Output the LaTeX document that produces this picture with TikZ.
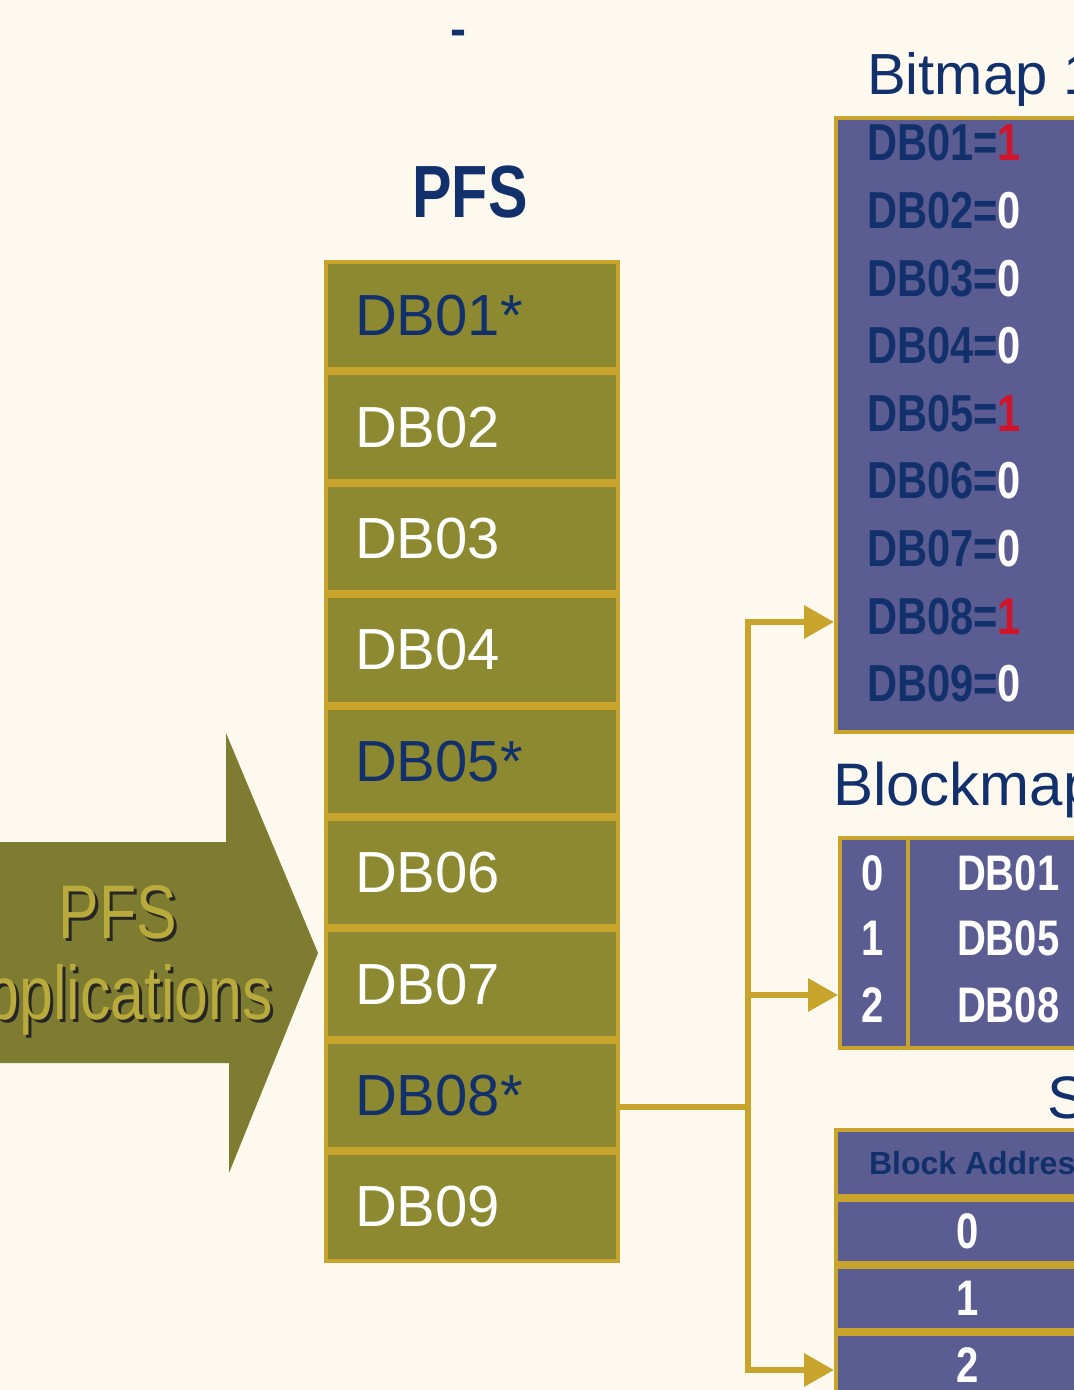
\documentclass[tikz,border=0pt]{standalone}
\usepackage{fontspec}
\setmainfont{Liberation Sans}
\newfontfamily\narrow[FakeStretch=0.8]{Liberation Sans}
\usetikzlibrary{positioning,arrows.meta}
\definecolor{paper}{HTML}{FEF9EE}
\definecolor{olive}{HTML}{8C8930}
\definecolor{darkolive}{HTML}{7D7C30}
\definecolor{gold}{HTML}{C9A42C}
\definecolor{slate}{HTML}{5A5C92}
\definecolor{navy}{HTML}{12306B}
\definecolor{bitred}{HTML}{D0142C}
\definecolor{apptext}{HTML}{B9AA3C}
\begin{document}
\begin{tikzpicture}[x=0.5pt, y=-0.5pt,
    cell/.style = {draw=gold, line width=2pt, fill=olive, minimum width=146pt, minimum height=53.7pt,
                   text width=117pt, align=left, font=\fontsize{29}{30}\selectfont, text=white},
    starcell/.style = {cell, text=navy},
    panel/.style = {draw=gold, line width=2pt, fill=slate},
    bit/.style = {anchor=west, font=\narrow\bfseries\fontsize{26}{28}\selectfont, text=navy},
    num/.style = {font=\narrow\bfseries\fontsize{25}{27}\selectfont, text=white},
    title/.style = {anchor=west, text=navy},
    app/.style = {font=\narrow\fontsize{38}{40}\selectfont, text=apptext},
    link/.style = {draw=gold, line width=3.2pt},
    tip/.style = {-{Triangle[length=15pt, width=16pt]}}]
    \useasboundingbox (0,0) rectangle (1074,1390);
    \clip (0,0) rectangle (1074,1390);
    \fill[paper] (0,0) rectangle (1074,1390);

    % PFS column
    \node[title, anchor=center, font=\bfseries\fontsize{24}{26}\selectfont] (dash) at (458,38) {-};
    \node[title, anchor=center, font=\narrow\bfseries\fontsize{37}{40}\selectfont] (pfs) at (470,192) {PFS};
    \node[starcell] (c1) at (472,315.7) {DB01*};
    \node[cell] (c2) [below=0pt of c1] {DB02};
    \node[cell] (c3) [below=0pt of c2] {DB03};
    \node[cell] (c4) [below=0pt of c3] {DB04};
    \node[starcell] (c5) [below=0pt of c4] {DB05*};
    \node[cell] (c6) [below=0pt of c5] {DB06};
    \node[cell] (c7) [below=0pt of c6] {DB07};
    \node[starcell] (c8) [below=0pt of c7] {DB08*};
    \node[cell] (c9) [below=0pt of c8] {DB09};

    % applications arrow
    \fill[darkolive] (-10,842) -- (226,842) -- (226,733) -- (318,953) -- (229,1173) -- (229,1063) -- (-10,1063) -- cycle;
    \node[app, text=black!85] (pfsshadow) at (121,915) {PFS};
    \node[app] (pfsapp) at (118,912) {PFS};
    \node[app, text=black!85, anchor=east] (appshadow) at (283,1003) {Applications};
    \node[app, anchor=east] (apps) at (280,1000) {Applications};

    % bitmap
    \node[title, font=\fontsize{29}{31}\selectfont] (bmtitle) at (860,80) {Bitmap 1};
    \node[panel, minimum width=132pt, minimum height=307pt] (bitmap) at (968,425) {};
    \node[bit] (b1) at (860,143) {DB01=\textcolor{bitred}{1}};
    \node[bit] (b2) at (860,210.6) {DB02=\textcolor{white}{0}};
    \node[bit] (b3) at (860,278.2) {DB03=\textcolor{white}{0}};
    \node[bit] (b4) at (860,345.8) {DB04=\textcolor{white}{0}};
    \node[bit] (b5) at (860,413.4) {DB05=\textcolor{bitred}{1}};
    \node[bit] (b6) at (860,481) {DB06=\textcolor{white}{0}};
    \node[bit] (b7) at (860,548.6) {DB07=\textcolor{white}{0}};
    \node[bit] (b8) at (860,616.2) {DB08=\textcolor{bitred}{1}};
    \node[bit] (b9) at (860,683.8) {DB09=\textcolor{white}{0}};

    % blockmap
    \node[title, font=\fontsize{30}{32}\selectfont] (bktitle) at (826,790) {Blockmap};
    \node[panel, minimum width=130pt, minimum height=105pt] (blk) at (970,943) {};
    \draw[draw=gold, line width=2pt] (908,838) -- (908,1048);
    \node[num] (k0) at (873,873) {0};
    \node[num] (k1) at (873,938) {1};
    \node[num] (k2) at (873,1005) {2};
    \node[num, anchor=west] (d0) at (950,873) {DB01};
    \node[num, anchor=west] (d1) at (950,938) {DB05};
    \node[num, anchor=west] (d2) at (950,1005) {DB08};

    % third table
    \node[title, font=\fontsize{30}{32}\selectfont] (stitle) at (1040,1098) {S};
    \node[panel, minimum width=132pt, minimum height=33pt] (hdr) at (968,1163) {};
    \node[title, font=\bfseries\fontsize{16}{18}\selectfont] (hdrtext) at (862,1163) {Block Address};
    \node[panel, num, minimum width=132pt, minimum height=31.5pt] (r0) [below=0pt of hdr] {0};
    \node[panel, num, minimum width=132pt, minimum height=31.5pt] (r1) [below=0pt of r0] {1};
    \node[panel, num, minimum width=132pt, minimum height=31.5pt] (r2) [below=0pt of r1] {2};

    % connectors
    \coordinate (jn) at (748,1107);
    \coordinate (t1) at (748,622);
    \coordinate (t2) at (748,995);
    \coordinate (t3) at (748,1370);
    \draw[link] (c8.east |- jn) -- (jn);
    \draw[link, tip] (jn) -- (t1) -- (t1 -| bitmap.west);
    \draw[link, tip] (t2) -- (t2 -| blk.west);
    \draw[link, tip] (jn) -- (t3) -- (t3 -| r2.west);
\end{tikzpicture}
\end{document}
